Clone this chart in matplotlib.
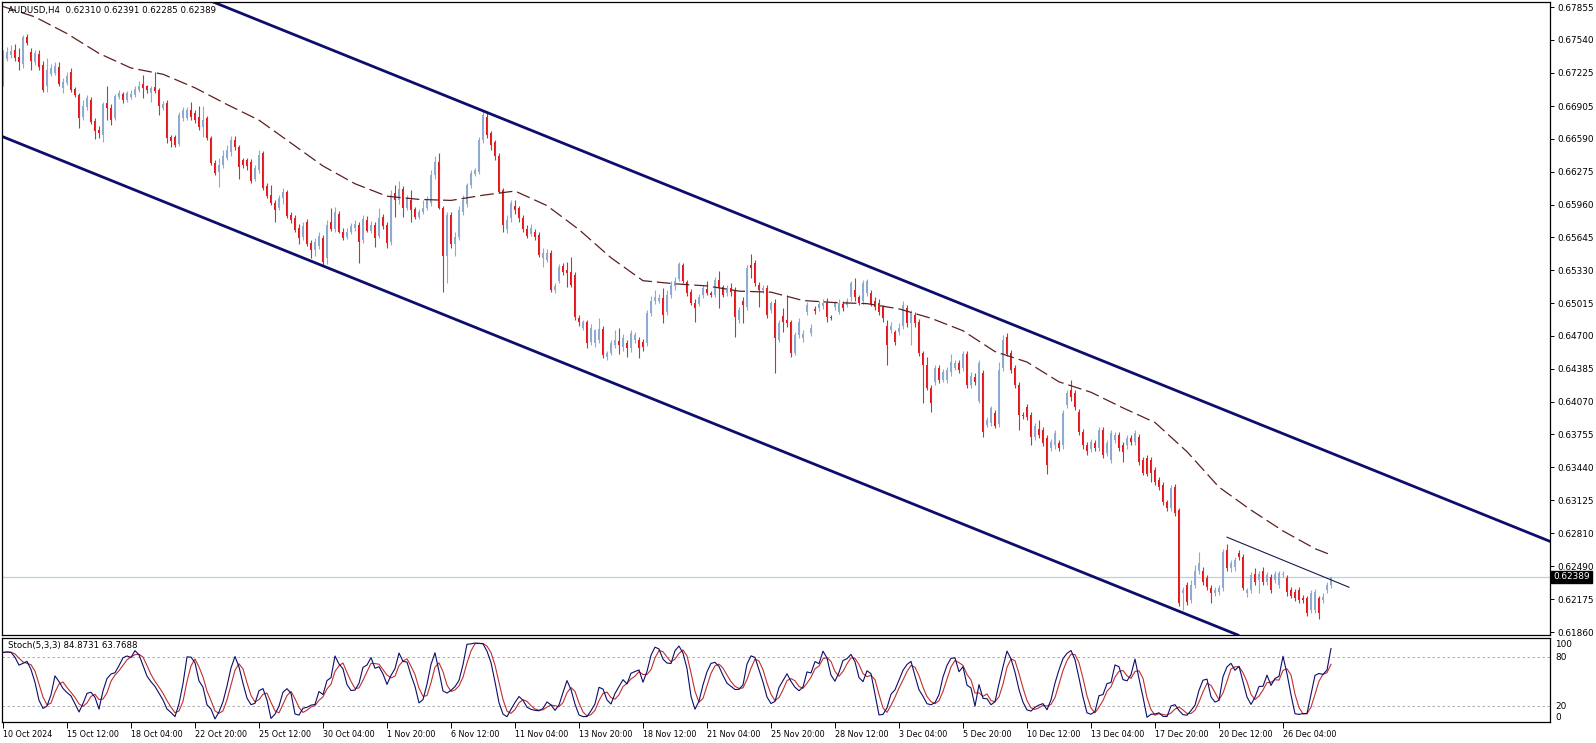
import numpy as np
import pandas as pd
import matplotlib
matplotlib.use("Agg")
import matplotlib.pyplot as plt

# AUDUSD H4 candles (333 bars)
opens = [
    0.6717, 0.6736, 0.6739, 0.6744, 0.6738, 0.6731, 0.6757, 0.6742, 0.6733, 0.6740,
    0.6730, 0.6710, 0.6721, 0.6722, 0.6728, 0.6708, 0.6713, 0.6723, 0.6707, 0.6701,
    0.6680, 0.6690, 0.6696, 0.6676, 0.6668, 0.6663, 0.6693, 0.6689, 0.6679, 0.6699,
    0.6702, 0.6696, 0.6699, 0.6701, 0.6706, 0.6712, 0.6710, 0.6703, 0.6709, 0.6706,
    0.6689, 0.6693, 0.6661, 0.6661, 0.6654, 0.6679, 0.6679, 0.6687, 0.6684, 0.6680,
    0.6670, 0.6679, 0.6660, 0.6636, 0.6627, 0.6634, 0.6641, 0.6646, 0.6658, 0.6651,
    0.6639, 0.6639, 0.6637, 0.6621, 0.6629, 0.6645, 0.6614, 0.6605, 0.6598, 0.6593,
    0.6602, 0.6608, 0.6586, 0.6583, 0.6574, 0.6565, 0.6579, 0.6559, 0.6552, 0.6556,
    0.6564, 0.6545, 0.6579, 0.6573, 0.6587, 0.6570, 0.6565, 0.6570, 0.6574, 0.6576,
    0.6562, 0.6581, 0.6571, 0.6576, 0.6566, 0.6584, 0.6576, 0.6560, 0.6607, 0.6600,
    0.6611, 0.6593, 0.6600, 0.6592, 0.6584, 0.6589, 0.6593, 0.6598, 0.6624, 0.6637,
    0.6593, 0.6547, 0.6586, 0.6558, 0.6565, 0.6589, 0.6597, 0.6615, 0.6625, 0.6627,
    0.6658, 0.6680, 0.6665, 0.6656, 0.6643, 0.6610, 0.6573, 0.6583, 0.6595, 0.6593,
    0.6583, 0.6573, 0.6568, 0.6570, 0.6567, 0.6545, 0.6543, 0.6550, 0.6514, 0.6523,
    0.6537, 0.6533, 0.6531, 0.6528, 0.6487, 0.6478, 0.6483, 0.6464, 0.6463, 0.6466,
    0.6477, 0.6450, 0.6454, 0.6461, 0.6465, 0.6459, 0.6463, 0.6458, 0.6466, 0.6466,
    0.6464, 0.6463, 0.6492, 0.6504, 0.6504, 0.6506, 0.6493, 0.6509, 0.6518, 0.6525,
    0.6538, 0.6522, 0.6512, 0.6502, 0.6501, 0.6509, 0.6515, 0.6511, 0.6509, 0.6524,
    0.6517, 0.6511, 0.6516, 0.6514, 0.6485, 0.6504, 0.6498, 0.6538, 0.6540, 0.6519,
    0.6514, 0.6516, 0.6495, 0.6502, 0.6466, 0.6489, 0.6485, 0.6483, 0.6454, 0.6471,
    0.6468, 0.6493, 0.6473, 0.6496, 0.6497, 0.6499, 0.6502, 0.6488, 0.6498, 0.6493,
    0.6501, 0.6500, 0.6507, 0.6514, 0.6507, 0.6504, 0.6511, 0.6511, 0.6504, 0.6502,
    0.6498, 0.6480, 0.6476, 0.6474, 0.6474, 0.6480, 0.6497, 0.6482, 0.6490, 0.6483,
    0.6454, 0.6442, 0.6420, 0.6426, 0.6439, 0.6428, 0.6428, 0.6435, 0.6439, 0.6444,
    0.6439, 0.6453, 0.6423, 0.6431, 0.6408, 0.6434, 0.6385, 0.6387, 0.6396, 0.6386,
    0.6439, 0.6469, 0.6454, 0.6439, 0.6423, 0.6394, 0.6402, 0.6394, 0.6373, 0.6381,
    0.6380, 0.6372, 0.6363, 0.6365, 0.6367, 0.6365, 0.6404, 0.6418, 0.6415, 0.6397,
    0.6378, 0.6365, 0.6362, 0.6367, 0.6363, 0.6380, 0.6358, 0.6351, 0.6370, 0.6375,
    0.6365, 0.6365, 0.6372, 0.6368, 0.6373, 0.6351, 0.6353, 0.6351, 0.6341, 0.6332,
    0.6327, 0.6311, 0.6305, 0.6325, 0.6303, 0.6223, 0.6231, 0.6217, 0.6231, 0.6245,
    0.6245, 0.6238, 0.6228, 0.6223, 0.6224, 0.6228, 0.6265, 0.6247, 0.6248, 0.6262,
    0.6258, 0.6223, 0.6226, 0.6242, 0.6236, 0.6245, 0.6234, 0.6239, 0.6236, 0.6231,
    0.6241, 0.6238, 0.6226, 0.6224, 0.6226, 0.6219, 0.6219, 0.6207, 0.6207, 0.6219,
    0.6217, 0.6226, 0.62310,
]
highs = [
    0.6744, 0.6747, 0.6749, 0.6750, 0.6746, 0.6759, 0.6760, 0.6746, 0.6744, 0.6744,
    0.6734, 0.6737, 0.6731, 0.6733, 0.6733, 0.6717, 0.6723, 0.6727, 0.6709, 0.6703,
    0.6696, 0.6701, 0.6699, 0.6679, 0.6671, 0.6694, 0.6710, 0.6692, 0.6702, 0.6706,
    0.6704, 0.6705, 0.6706, 0.6710, 0.6715, 0.6720, 0.6711, 0.6710, 0.6723, 0.6708,
    0.6695, 0.6696, 0.6663, 0.6663, 0.6685, 0.6690, 0.6690, 0.6694, 0.6687, 0.6691,
    0.6691, 0.6681, 0.6662, 0.6639, 0.6641, 0.6648, 0.6653, 0.6662, 0.6662, 0.6653,
    0.6641, 0.6641, 0.6640, 0.6634, 0.6648, 0.6647, 0.6617, 0.6615, 0.6600, 0.6605,
    0.6612, 0.6610, 0.6589, 0.6586, 0.6577, 0.6579, 0.6582, 0.6562, 0.6564, 0.6570,
    0.6567, 0.6581, 0.6593, 0.6594, 0.6590, 0.6574, 0.6574, 0.6578, 0.6581, 0.6579,
    0.6586, 0.6585, 0.6580, 0.6579, 0.6593, 0.6587, 0.6579, 0.6610, 0.6615, 0.6619,
    0.6614, 0.6605, 0.6610, 0.6594, 0.6592, 0.6600, 0.6604, 0.6629, 0.6643, 0.6645,
    0.6595, 0.6589, 0.6589, 0.6570, 0.6595, 0.6605, 0.6617, 0.6629, 0.6631, 0.6661,
    0.6687, 0.6685, 0.6667, 0.6658, 0.6645, 0.6612, 0.6586, 0.6600, 0.6600, 0.6595,
    0.6586, 0.6576, 0.6577, 0.6573, 0.6570, 0.6554, 0.6553, 0.6552, 0.6521, 0.6539,
    0.6540, 0.6541, 0.6546, 0.6531, 0.6490, 0.6485, 0.6485, 0.6481, 0.6477, 0.6487,
    0.6480, 0.6456, 0.6466, 0.6476, 0.6478, 0.6472, 0.6466, 0.6476, 0.6474, 0.6469,
    0.6467, 0.6495, 0.6508, 0.6514, 0.6510, 0.6516, 0.6514, 0.6523, 0.6527, 0.6541,
    0.6540, 0.6524, 0.6515, 0.6505, 0.6510, 0.6519, 0.6523, 0.6513, 0.6527, 0.6532,
    0.6519, 0.6519, 0.6521, 0.6517, 0.6498, 0.6507, 0.6538, 0.6549, 0.6543, 0.6522,
    0.6519, 0.6519, 0.6504, 0.6505, 0.6485, 0.6497, 0.6509, 0.6485, 0.6474, 0.6487,
    0.6476, 0.6503, 0.6481, 0.6499, 0.6504, 0.6505, 0.6506, 0.6490, 0.6504, 0.6505,
    0.6504, 0.6506, 0.6523, 0.6526, 0.6509, 0.6524, 0.6525, 0.6514, 0.6507, 0.6505,
    0.6500, 0.6485, 0.6483, 0.6476, 0.6482, 0.6504, 0.6500, 0.6495, 0.6493, 0.6486,
    0.6456, 0.6450, 0.6423, 0.6442, 0.6442, 0.6438, 0.6440, 0.6453, 0.6447, 0.6447,
    0.6456, 0.6456, 0.6435, 0.6434, 0.6447, 0.6437, 0.6392, 0.6403, 0.6399, 0.6445,
    0.6471, 0.6473, 0.6457, 0.6442, 0.6426, 0.6397, 0.6405, 0.6397, 0.6387, 0.6389,
    0.6383, 0.6375, 0.6371, 0.6380, 0.6370, 0.6399, 0.6418, 0.6428, 0.6418, 0.6400,
    0.6381, 0.6368, 0.6371, 0.6370, 0.6383, 0.6383, 0.6370, 0.6380, 0.6378, 0.6378,
    0.6368, 0.6375, 0.6375, 0.6380, 0.6376, 0.6354, 0.6356, 0.6354, 0.6344, 0.6335,
    0.6330, 0.6313, 0.6327, 0.6328, 0.6305, 0.6229, 0.6234, 0.6236, 0.6250, 0.6263,
    0.6248, 0.6241, 0.6231, 0.6229, 0.6231, 0.6266, 0.6270, 0.6255, 0.6258, 0.6265,
    0.6261, 0.6228, 0.6244, 0.6247, 0.6245, 0.6248, 0.6244, 0.6242, 0.6245, 0.6245,
    0.6245, 0.6241, 0.6229, 0.6227, 0.6229, 0.6222, 0.6221, 0.6226, 0.6227, 0.6221,
    0.6223, 0.6234, 0.62391,
]
lows = [
    0.6710, 0.6734, 0.6737, 0.6734, 0.6725, 0.6727, 0.6749, 0.6725, 0.6730, 0.6725,
    0.6704, 0.6704, 0.6719, 0.6720, 0.6710, 0.6703, 0.6711, 0.6704, 0.6699, 0.6669,
    0.6677, 0.6687, 0.6673, 0.6659, 0.6660, 0.6656, 0.6677, 0.6672, 0.6677, 0.6697,
    0.6693, 0.6694, 0.6697, 0.6699, 0.6704, 0.6698, 0.6703, 0.6694, 0.6703, 0.6682,
    0.6687, 0.6655, 0.6651, 0.6651, 0.6652, 0.6676, 0.6677, 0.6677, 0.6674, 0.6668,
    0.6661, 0.6658, 0.6634, 0.6624, 0.6613, 0.6631, 0.6639, 0.6643, 0.6648, 0.6621,
    0.6631, 0.6629, 0.6617, 0.6619, 0.6626, 0.6610, 0.6602, 0.6596, 0.6579, 0.6591,
    0.6597, 0.6583, 0.6578, 0.6570, 0.6558, 0.6562, 0.6556, 0.6545, 0.6547, 0.6553,
    0.6537, 0.6539, 0.6571, 0.6570, 0.6569, 0.6562, 0.6563, 0.6568, 0.6571, 0.6540,
    0.6559, 0.6570, 0.6569, 0.6555, 0.6564, 0.6573, 0.6554, 0.6557, 0.6584, 0.6597,
    0.6584, 0.6591, 0.6579, 0.6582, 0.6582, 0.6587, 0.6591, 0.6595, 0.6621, 0.6592,
    0.6512, 0.6521, 0.6554, 0.6547, 0.6562, 0.6586, 0.6594, 0.6612, 0.6623, 0.6625,
    0.6655, 0.6660, 0.6648, 0.6639, 0.6607, 0.6570, 0.6569, 0.6579, 0.6587, 0.6579,
    0.6570, 0.6564, 0.6566, 0.6562, 0.6546, 0.6536, 0.6541, 0.6512, 0.6511, 0.6521,
    0.6528, 0.6517, 0.6517, 0.6485, 0.6480, 0.6476, 0.6458, 0.6461, 0.6459, 0.6463,
    0.6449, 0.6447, 0.6452, 0.6458, 0.6453, 0.6456, 0.6450, 0.6455, 0.6463, 0.6449,
    0.6456, 0.6460, 0.6489, 0.6501, 0.6502, 0.6482, 0.6490, 0.6506, 0.6514, 0.6523,
    0.6521, 0.6508, 0.6500, 0.6483, 0.6499, 0.6506, 0.6509, 0.6507, 0.6507, 0.6497,
    0.6507, 0.6508, 0.6508, 0.6469, 0.6482, 0.6482, 0.6495, 0.6526, 0.6518, 0.6498,
    0.6511, 0.6487, 0.6492, 0.6434, 0.6464, 0.6474, 0.6479, 0.6450, 0.6452, 0.6468,
    0.6464, 0.6490, 0.6470, 0.6491, 0.6494, 0.6496, 0.6483, 0.6485, 0.6495, 0.6491,
    0.6494, 0.6498, 0.6504, 0.6504, 0.6500, 0.6501, 0.6508, 0.6499, 0.6495, 0.6490,
    0.6483, 0.6442, 0.6473, 0.6461, 0.6471, 0.6477, 0.6479, 0.6461, 0.6479, 0.6451,
    0.6406, 0.6418, 0.6397, 0.6423, 0.6425, 0.6426, 0.6425, 0.6432, 0.6437, 0.6434,
    0.6436, 0.6420, 0.6420, 0.6423, 0.6406, 0.6373, 0.6383, 0.6384, 0.6382, 0.6383,
    0.6436, 0.6451, 0.6434, 0.6420, 0.6380, 0.6390, 0.6389, 0.6365, 0.6370, 0.6372,
    0.6364, 0.6338, 0.6360, 0.6362, 0.6360, 0.6362, 0.6401, 0.6408, 0.6399, 0.6375,
    0.6362, 0.6356, 0.6359, 0.6360, 0.6360, 0.6353, 0.6355, 0.6348, 0.6367, 0.6360,
    0.6349, 0.6362, 0.6365, 0.6365, 0.6346, 0.6337, 0.6336, 0.6330, 0.6327, 0.6322,
    0.6308, 0.6302, 0.6302, 0.6297, 0.6211, 0.6207, 0.6212, 0.6214, 0.6228, 0.6242,
    0.6231, 0.6226, 0.6214, 0.6221, 0.6222, 0.6225, 0.6245, 0.6244, 0.6245, 0.6255,
    0.6226, 0.6220, 0.6223, 0.6231, 0.6223, 0.6231, 0.6231, 0.6223, 0.6233, 0.6228,
    0.6239, 0.6221, 0.6219, 0.6216, 0.6214, 0.6214, 0.6201, 0.6204, 0.6204, 0.6199,
    0.6214, 0.6223, 0.62285,
]
closes = [
    0.6739, 0.6742, 0.6743, 0.6737, 0.6733, 0.6757, 0.6751, 0.6734, 0.6741, 0.6728,
    0.6706, 0.6725, 0.6727, 0.6729, 0.6712, 0.6714, 0.6719, 0.6706, 0.6701, 0.6679,
    0.6691, 0.6698, 0.6675, 0.6667, 0.6665, 0.6692, 0.6689, 0.6677, 0.6700, 0.6703,
    0.6696, 0.6703, 0.6702, 0.6707, 0.6710, 0.6708, 0.6706, 0.6708, 0.6705, 0.6691,
    0.6692, 0.6660, 0.6657, 0.6653, 0.6682, 0.6687, 0.6687, 0.6680, 0.6677, 0.6670,
    0.6677, 0.6660, 0.6636, 0.6626, 0.6634, 0.6643, 0.6648, 0.6658, 0.6651, 0.6632,
    0.6634, 0.6633, 0.6619, 0.6631, 0.6644, 0.6612, 0.6604, 0.6598, 0.6591, 0.6602,
    0.6608, 0.6585, 0.6581, 0.6572, 0.6564, 0.6575, 0.6558, 0.6552, 0.6560, 0.6566,
    0.6541, 0.6576, 0.6573, 0.6589, 0.6570, 0.6564, 0.6570, 0.6575, 0.6577, 0.6560,
    0.6582, 0.6571, 0.6576, 0.6564, 0.6583, 0.6575, 0.6559, 0.6605, 0.6600, 0.6611,
    0.6593, 0.6602, 0.6591, 0.6584, 0.6589, 0.6593, 0.6600, 0.6624, 0.6637, 0.6593,
    0.6547, 0.6586, 0.6558, 0.6565, 0.6591, 0.6600, 0.6615, 0.6626, 0.6629, 0.6658,
    0.6682, 0.6663, 0.6653, 0.6643, 0.6608, 0.6576, 0.6581, 0.6598, 0.6591, 0.6583,
    0.6573, 0.6566, 0.6574, 0.6565, 0.6548, 0.6550, 0.6550, 0.6514, 0.6518, 0.6536,
    0.6531, 0.6530, 0.6519, 0.6488, 0.6483, 0.6483, 0.6463, 0.6478, 0.6476, 0.6477,
    0.6452, 0.6454, 0.6463, 0.6466, 0.6461, 0.6468, 0.6458, 0.6473, 0.6471, 0.6458,
    0.6459, 0.6492, 0.6504, 0.6507, 0.6506, 0.6490, 0.6509, 0.6519, 0.6523, 0.6539,
    0.6523, 0.6511, 0.6502, 0.6497, 0.6507, 0.6516, 0.6511, 0.6509, 0.6524, 0.6516,
    0.6509, 0.6516, 0.6512, 0.6488, 0.6495, 0.6500, 0.6535, 0.6535, 0.6521, 0.6514,
    0.6516, 0.6490, 0.6502, 0.6468, 0.6482, 0.6483, 0.6482, 0.6454, 0.6471, 0.6483,
    0.6472, 0.6500, 0.6478, 0.6494, 0.6501, 0.6502, 0.6488, 0.6487, 0.6502, 0.6502,
    0.6497, 0.6504, 0.6521, 0.6507, 0.6502, 0.6521, 0.6523, 0.6501, 0.6498, 0.6493,
    0.6487, 0.6461, 0.6480, 0.6464, 0.6478, 0.6500, 0.6482, 0.6492, 0.6482, 0.6454,
    0.6442, 0.6420, 0.6406, 0.6439, 0.6428, 0.6435, 0.6437, 0.6445, 0.6444, 0.6437,
    0.6453, 0.6423, 0.6432, 0.6426, 0.6444, 0.6378, 0.6389, 0.6401, 0.6384, 0.6437,
    0.6466, 0.6453, 0.6437, 0.6423, 0.6394, 0.6393, 0.6392, 0.6373, 0.6384, 0.6375,
    0.6367, 0.6346, 0.6368, 0.6377, 0.6363, 0.6396, 0.6415, 0.6411, 0.6402, 0.6378,
    0.6365, 0.6360, 0.6368, 0.6363, 0.6380, 0.6356, 0.6367, 0.6377, 0.6375, 0.6363,
    0.6359, 0.6372, 0.6368, 0.6377, 0.6349, 0.6339, 0.6338, 0.6339, 0.6330, 0.6325,
    0.6311, 0.6305, 0.6324, 0.6300, 0.6214, 0.6226, 0.6215, 0.6231, 0.6245, 0.6252,
    0.6234, 0.6229, 0.6223, 0.6226, 0.6228, 0.6263, 0.6247, 0.6252, 0.6255, 0.6258,
    0.6228, 0.6226, 0.6241, 0.6234, 0.6242, 0.6234, 0.6241, 0.6226, 0.6242, 0.6243,
    0.6242, 0.6224, 0.6221, 0.6219, 0.6217, 0.6217, 0.6204, 0.6223, 0.6224, 0.6204,
    0.6220, 0.6231, 0.62389,
]

# dashed moving average, read every 8 bars
ma_bars = [0, 8, 16, 24, 32, 40, 48, 56, 64, 72, 80, 88, 96, 104, 112, 120, 128,
           136, 144, 152, 160, 168, 176, 184, 192, 200, 208, 216, 224, 232, 240,
           248, 256, 264, 272, 280, 288, 296, 304, 312, 320, 328, 332]
ma_vals = [0.6786, 0.6776, 0.6760, 0.6741, 0.6727, 0.6721, 0.6708, 0.6692, 0.6677,
           0.6655, 0.6633, 0.6616, 0.6604, 0.6601, 0.6600, 0.6605, 0.6609, 0.6595,
           0.6572, 0.6545, 0.6523, 0.6520, 0.6518, 0.6513, 0.6512, 0.6504, 0.6502,
           0.6501, 0.6496, 0.6487, 0.6475, 0.6455, 0.6445, 0.6426, 0.6416, 0.6401,
           0.6387, 0.6359, 0.6325, 0.6303, 0.6283, 0.6266, 0.6260]

# trend lines (bar index, price)
chan_up = [(52.75, 0.6790), (386.75, 0.6273)]
chan_dn = [(0.0, 0.6661), (298.5, 0.6199)]
short_line_x = [306, 336.5]
short_line_y = [0.6277, 0.6229]

last_price = 0.62389
price_ticks = [0.67855, 0.67540, 0.67225, 0.66905, 0.66590, 0.66275, 0.65960,
               0.65645, 0.65330, 0.65015, 0.64700, 0.64385, 0.64070, 0.63755,
               0.63440, 0.63125, 0.62810, 0.62490, 0.62175, 0.61860]
time_labels = ["10 Oct 2024", "15 Oct 12:00", "18 Oct 04:00", "22 Oct 20:00",
               "25 Oct 12:00", "30 Oct 04:00", "1 Nov 20:00", "6 Nov 12:00",
               "11 Nov 04:00", "13 Nov 20:00", "18 Nov 12:00", "21 Nov 04:00",
               "25 Nov 20:00", "28 Nov 12:00", "3 Dec 04:00", "5 Dec 20:00",
               "10 Dec 12:00", "13 Dec 04:00", "17 Dec 20:00", "20 Dec 12:00",
               "26 Dec 04:00"]
label_every = 16

BULL = '#8eaad0'
BEAR = '#e3161c'
BEAR_WICK = '#b83a3a'
NAVY = '#0d0d6b'


def stochastic(h, l, c, k=5, slow=3, d=3):
    hh = pd.Series(h).rolling(k, min_periods=1).max()
    ll = pd.Series(l).rolling(k, min_periods=1).min()
    num = (pd.Series(c) - ll).rolling(slow, min_periods=1).sum()
    den = (hh - ll).rolling(slow, min_periods=1).sum()
    main = 100 * num / den
    return main.values, main.rolling(d, min_periods=1).mean().values


def candles(ax, o, h, l, c):
    x = np.arange(len(c))
    up = c >= o
    dn = ~up
    ax.vlines(x[up], l[up], h[up], color=BULL, lw=0.8)
    ax.vlines(x[dn], l[dn], h[dn], color=BEAR_WICK, lw=0.8)
    ax.bar(x[up], c[up] - o[up], bottom=o[up], width=0.62, color=BULL, lw=0)
    ax.bar(x[dn], o[dn] - c[dn], bottom=c[dn], width=0.62, color=BEAR, lw=0)


def main():
    o = np.array(opens)
    h = np.array(highs)
    l = np.array(lows)
    c = np.array(closes)
    x = np.arange(len(c))

    fig = plt.figure(figsize=(15.96, 7.43), dpi=100)
    ax = fig.add_axes([0.00125, 0.14536, 0.96993, 0.85195])
    ax2 = fig.add_axes([0.00125, 0.02826, 0.96993, 0.11306])

    # price panel
    ax.axhline(last_price, color='#bfd0dc', lw=0.9, zorder=0)
    candles(ax, o, h, l, c)
    ax.plot(ma_bars, ma_vals, color='#5c1f1f', lw=0.9, ls=(0, (11, 4)))
    ax.axline(chan_up[0], chan_up[1], color=NAVY, lw=2.0)
    ax.axline(chan_dn[0], chan_dn[1], color=NAVY, lw=2.0)
    ax.plot(short_line_x, short_line_y, color='#1a1a50', lw=0.8)

    ax.set_xlim(-0.25, 386.75)
    ax.set_ylim(0.61832, 0.67903)
    ax.set_xticks([])
    ax.yaxis.tick_right()
    ax.set_yticks(price_ticks)
    ax.set_yticklabels(['%.5f' % v for v in price_ticks])
    ax.tick_params(axis='y', labelsize=6.4, length=3, width=0.7, pad=2)
    for s in ax.spines.values():
        s.set_linewidth(0.9)
    ax.text(1.002, last_price, '%.5f' % last_price, transform=ax.get_yaxis_transform(),
            ha='left', va='center', color='white', fontsize=6.4,
            bbox=dict(boxstyle='square,pad=0.2', fc='black', ec='black'))
    ax.text(0.004, 0.994, 'AUDUSD,H4  %.5f %.5f %.5f %.5f' % (o[-1], h[-1], l[-1], c[-1]),
            transform=ax.transAxes, ha='left', va='top', fontsize=6.2)

    # stochastic panel
    k_line, d_line = stochastic(h, l, c)
    ax2.axhline(80, color='#a0a0a0', lw=0.6, ls=(0, (3, 3)))
    ax2.axhline(20, color='#a0a0a0', lw=0.6, ls=(0, (3, 3)))
    ax2.plot(x, d_line, color='#c03030', lw=0.8)
    ax2.plot(x, k_line, color=NAVY, lw=0.8)
    ax2.set_xlim(-0.25, 386.75)
    ax2.set_ylim(0, 103)
    ax2.yaxis.tick_right()
    ax2.set_yticks([100, 80, 20, 0])
    ax2.set_yticklabels(['100', '80', '20', '0'])
    ax2.tick_params(axis='y', labelsize=6.4, length=0, pad=4)
    ylabels = ax2.get_yticklabels()
    ylabels[0].set_va('top')
    ylabels[3].set_va('bottom')
    ax2.set_xticks(np.arange(len(time_labels)) * label_every)
    ax2.set_xticklabels(time_labels)
    for t in ax2.get_xticklabels():
        t.set_ha('left')
    ax2.tick_params(axis='x', labelsize=5.8, length=4, width=0.7, pad=1.5)
    for s in ax2.spines.values():
        s.set_linewidth(0.9)
    ax2.text(0.004, 0.96, 'Stoch(5,3,3) 84.8731 63.7688', transform=ax2.transAxes,
             ha='left', va='top', fontsize=6.2)

    fig.savefig('out.png', dpi=100, facecolor='white')


if __name__ == '__main__':
    main()
